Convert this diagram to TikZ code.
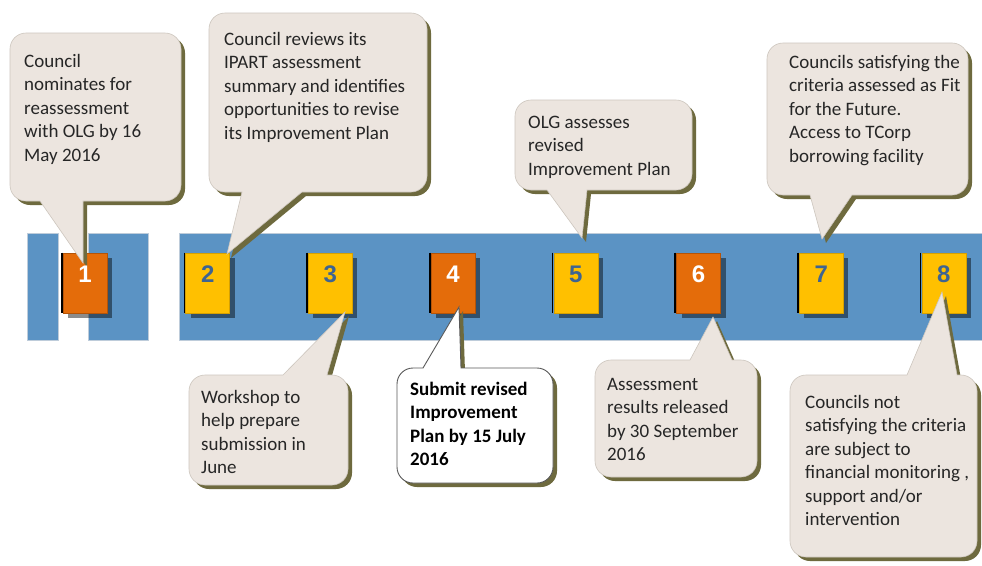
\documentclass[tikz,border=0pt]{standalone}
\usepackage{fontspec}
\setmainfont{Carlito}
\newfontfamily\numfont{Liberation Sans}
\usetikzlibrary{shadows}

\definecolor{bandblue}{RGB}{91,147,196}
\definecolor{bandedge}{RGB}{190,204,218}
\definecolor{stepyellow}{RGB}{255,192,0}
\definecolor{yellowedge}{RGB}{214,160,0}
\definecolor{steporange}{RGB}{228,108,10}
\definecolor{orangeedge}{RGB}{180,84,8}
\definecolor{numblue}{RGB}{62,100,145}
\definecolor{bubblefill}{RGB}{236,229,223}
\definecolor{bubbleedge}{RGB}{205,198,190}
\definecolor{bubbleshade}{RGB}{110,106,62}
\definecolor{textgrey}{RGB}{38,38,38}

% left-aligned lines whose baseline is the first line's
\newcommand\calltext[1]{\begin{tabular}[t]{@{}l@{}}#1\end{tabular}}

\def\br{16}
% speech bubble, pointer leaving the bottom edge
% #1 left #2 top #3 right #4 bottom #5,#6 pointer base x #7,#8 tip #9 options
\newcommand\downpath[9]{%
  \path[#9] (#7,-#8) -- (#5,-#4) -- ({#1+\br},-#4)
    arc[start angle=270,end angle=180,radius=\br] -- (#1,{-#2-\br})
    arc[start angle=180,end angle=90,radius=\br] -- ({#3-\br},-#2)
    arc[start angle=90,end angle=0,radius=\br] -- (#3,{-#4+\br})
    arc[start angle=0,end angle=-90,radius=\br] -- (#6,-#4) -- cycle;}
% speech bubble, pointer leaving the top edge
\newcommand\uppath[9]{%
  \path[#9] (#7,-#8) -- (#6,-#2) -- ({#3-\br},-#2)
    arc[start angle=90,end angle=0,radius=\br] -- (#3,{-#4+\br})
    arc[start angle=0,end angle=-90,radius=\br] -- ({#1+\br},-#4)
    arc[start angle=270,end angle=180,radius=\br] -- (#1,{-#2-\br})
    arc[start angle=180,end angle=90,radius=\br] -- (#5,-#2) -- cycle;}
\newcommand\bubbledown[9]{%
  \downpath{#1}{#2}{#3}{#4}{#5}{#6}{#7}{#8}{bshadow}%
  \downpath{#1}{#2}{#3}{#4}{#5}{#6}{#7}{#8}{#9}}
\newcommand\bubbleup[9]{%
  \uppath{#1}{#2}{#3}{#4}{#5}{#6}{#7}{#8}{bshadow}%
  \uppath{#1}{#2}{#3}{#4}{#5}{#6}{#7}{#8}{#9}}

\tikzset{
  band/.style={fill=bandblue, draw=bandedge, line width=0.8pt},
  stepbox/.style={minimum width=44pt, minimum height=60pt, inner sep=0pt,
    drop shadow={shadow xshift=5pt, shadow yshift=-5pt, fill=black, opacity=0.45}},
  ybox/.style={stepbox, fill=stepyellow, draw=yellowedge, line width=0.6pt},
  obox/.style={stepbox, fill=steporange, draw=orangeedge, line width=0.6pt},
  leftedge/.style={draw=black, line width=1.6pt},
  ydigit/.style={font=\numfont\bfseries\fontsize{24}{24}\selectfont, text=numblue, inner sep=0pt},
  odigit/.style={font=\numfont\bfseries\fontsize{24}{24}\selectfont, text=white, inner sep=0pt},
  bshadow/.style={fill=bubbleshade, shift={(4,-4)}},
  bplain/.style={fill=bubblefill, draw=bubbleedge, line width=0.6pt},
  bwhite/.style={fill=white, draw=black!65, line width=0.9pt},
  txt/.style={anchor=base west, inner sep=0pt, text=textgrey,
    font=\fontsize{19}{23.4}\selectfont},
}

\begin{document}
\begin{tikzpicture}[x=1pt, y=1pt]
\useasboundingbox (0,0) rectangle (982,-565);
\clip (0,0) rectangle (982,-565);
\fill[white] (0,0) rectangle (982,-565);

% timeline band
\path[band] (27,-233) rectangle (58,-340);
\path[band] (88,-233) rectangle (148,-340);
\path[band] (179,-233) rectangle (990,-340);

% step boxes
\foreach \i/\st in {1/obox,2/ybox,3/ybox,4/obox,5/ybox,6/obox,7/ybox,8/ybox}{
  \node[\st] (b\i) at ({85+122.7*(\i-1)},-283) {};
  \draw[leftedge] ([xshift=-1pt]b\i.north west) -- ([xshift=-1pt]b\i.south west);
}

% callouts
\bubbledown{10}{33}{181}{201}{40}{83}{83}{263}{bplain}
\bubbledown{209}{13}{427}{192}{242}{302}{227}{254}{bplain}
\bubbleup{189}{375}{348}{485}{283}{327}{345}{312}{bplain}
\bubbleup{397}{368}{553}{483}{423}{461}{459}{307}{bwhite}
\bubbledown{515}{100}{692}{190}{547}{587}{582}{238}{bplain}
\bubbleup{595}{360}{757}{477}{690}{732}{713}{317}{bplain}
\bubbledown{767}{43}{968}{195}{810}{852}{822}{239}{bplain}
\bubbleup{790}{375}{977}{557}{907}{957}{942}{292}{bplain}

% callout texts
\node[txt] (n1) at (24,-67.5) {\calltext{Council\\nominates for\\reassessment\\with OLG by 16\\May 2016}};
\node[txt] (n2) at (224,-45.5) {\calltext{Council reviews its\\IPART assessment\\summary and identifies\\opportunities to revise\\its Improvement Plan}};
\node[txt] (n3) at (201,-403.5) {\calltext{Workshop to\\help prepare\\submission in\\June}};
\node[txt, font=\bfseries\fontsize{19}{23.4}\selectfont, text=black] (n4) at (410,-395.5) {\calltext{Submit revised\\Improvement\\Plan by 15 July\\2016}};
\node[txt] (n5) at (528,-128.5) {\calltext{OLG assesses\\revised\\Improvement Plan}};
\node[txt] (n6) at (607,-390.5) {\calltext{Assessment\\results released\\by 30 September\\2016}};
\node[txt] (n7) at (789,-68.5) {\calltext{Councils satisfying the\\criteria assessed as Fit\\for the Future.\\Access to TCorp\\borrowing facility}};
\node[txt] (n8) at (805,-408.5) {\calltext{Councils not\\satisfying the criteria\\are subject to\\financial monitoring ,\\support and/or\\intervention}};

% step numbers
\foreach \i/\st in {1/odigit,2/ydigit,3/ydigit,4/odigit,5/ydigit,6/odigit,7/ydigit,8/ydigit}{
  \node[\st] (d\i) at ({85+122.7*(\i-1)},-274) {\i};
}
\end{tikzpicture}
\end{document}
